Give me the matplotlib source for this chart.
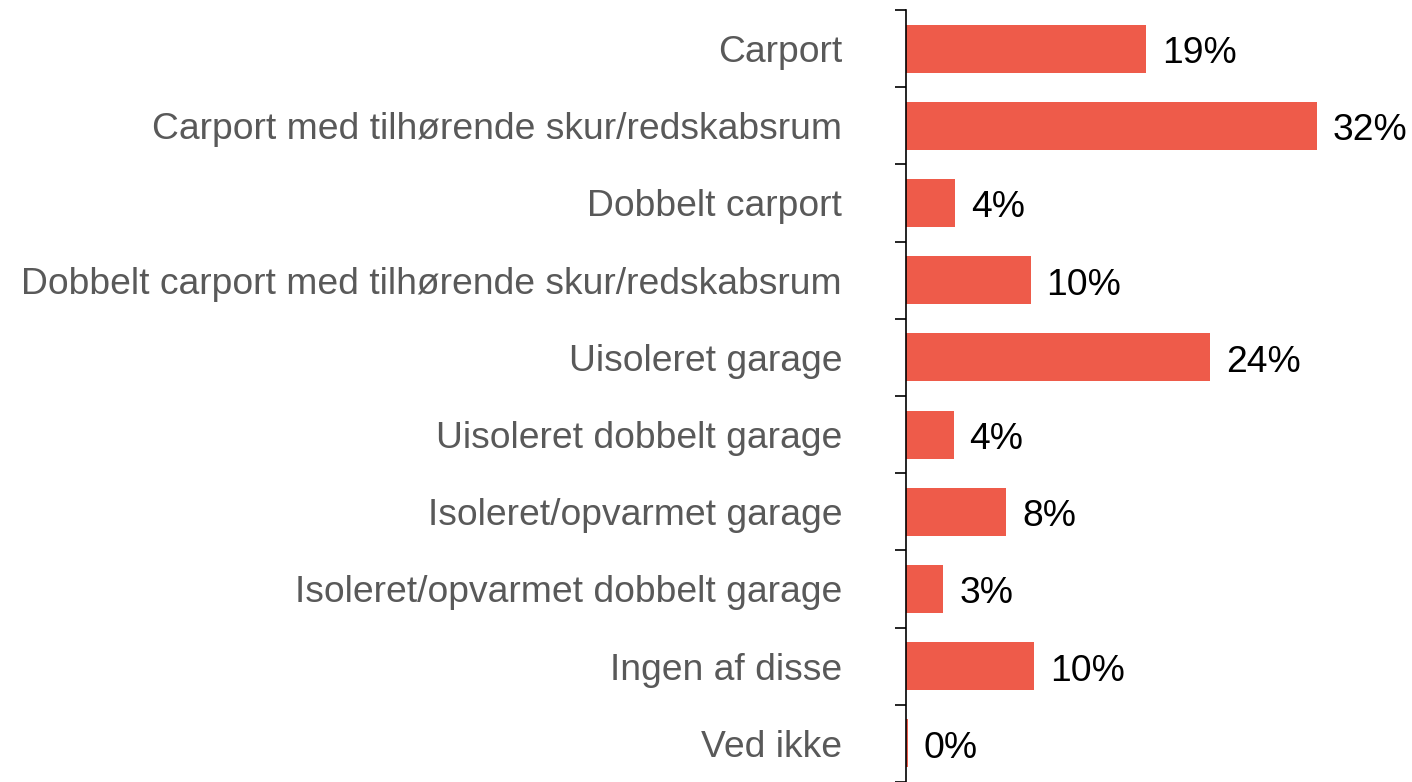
import matplotlib.pyplot as plt

categories = ['Carport', 'Carport med tilhørende skur/redskabsrum', 'Dobbelt carport',
              'Dobbelt carport med tilhørende skur/redskabsrum', 'Uisoleret garage',
              'Uisoleret dobbelt garage', 'Isoleret/opvarmet garage',
              'Isoleret/opvarmet dobbelt garage', 'Ingen af disse', 'Ved ikke']
values = [18.7, 32.0, 3.8, 9.7, 23.7, 3.7, 7.8, 2.9, 10.0, 0.15]
labels = ['19%', '32%', '4%', '10%', '24%', '4%', '8%', '3%', '10%', '0%']

plt.rcParams['font.family'] = ['Liberation Sans', 'DejaVu Sans']

fig = plt.figure(figsize=(14.12, 7.82), dpi=100)
ax = fig.add_axes([906 / 1412, 0, 1 - 906 / 1412, 1 - 10 / 782])

y = list(range(len(categories)))
ax.barh(y, values, height=0.62, color='#EE5B4A')
for yi, v, lab in zip(y, values, labels):
    ax.annotate(lab, (v, yi), xytext=(11.5, -3.5), textcoords='offset points',
                va='center', ha='left', fontsize=26.8, color='black')

ax.set_ylim(len(categories) - 0.5, -0.5)
ax.set_xlim(0, 506 / 12.84)
ax.set_yticks([i - 0.5 for i in range(len(categories) + 1)])
ax.set_yticklabels([])
ax.set_yticks(y, minor=True)
ax.set_yticklabels(categories, minor=True, fontsize=26.8, color='#595959')
ax.tick_params(axis='y', which='major', length=8, width=1.2, direction='out')
ax.tick_params(axis='y', which='minor', length=0, pad=46)
ax.set_xticks([])
for s in ['top', 'right', 'bottom']:
    ax.spines[s].set_visible(False)
ax.spines['left'].set_linewidth(1.2)

fig.savefig('out.png', dpi=100)
